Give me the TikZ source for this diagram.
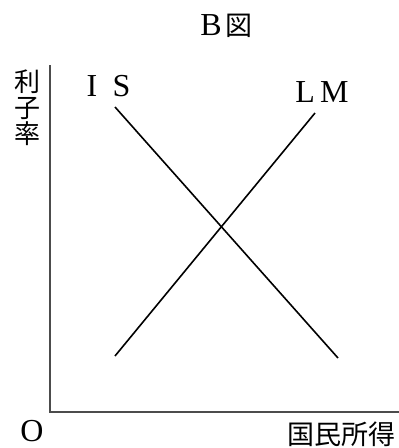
\documentclass[tikz,border=0pt]{standalone}
\usepackage{fontspec}
\setmainfont{Liberation Serif}
\newfontfamily\jp{Noto Sans CJK JP}
\begin{document}
\begin{tikzpicture}[x=1pt,y=-1pt,
  lat/.style={font=\fontsize{32}{32}\selectfont, inner sep=0pt},
  jpl/.style={font=\jp\fontsize{26}{26}\selectfont, inner sep=0pt},
  axis/.style={draw=black!70, line width=1.4pt},
  curve/.style={draw=black, line width=1.6pt}]
\useasboundingbox (0,0) rectangle (399,448);
\node[lat] (titleB) at (211,25) {B};
\node[jpl, font=\jp\fontsize{27}{27}\selectfont] (titleZ) at (239,25.5) {図};
\coordinate (top) at (50,65);
\coordinate (o) at (50,412);
\coordinate (xend) at (399,412);
\draw[axis] (top) -- (o) -- (xend);
\node[jpl, align=center, font=\jp\fontsize{26}{26}\selectfont] (rate) at (28,108) {利\\子\\率};
\node[lat] (O) at (32,431) {O};
\node[jpl, anchor=east, font=\jp\fontsize{27}{27}\selectfont] (income) at (396,434) {国民所得};
\node[lat] (I) at (92,86) {I};
\node[lat] (S) at (121.5,86) {S};
\node[lat] (LM) at (322,92) {L\,M};
\coordinate (is1) at (115,107);
\coordinate (is2) at (338,358);
\coordinate (lm1) at (115,356);
\coordinate (lm2) at (315,113);
\draw[curve] (is1) -- (is2);
\draw[curve] (lm1) -- (lm2);
\end{tikzpicture}
\end{document}
